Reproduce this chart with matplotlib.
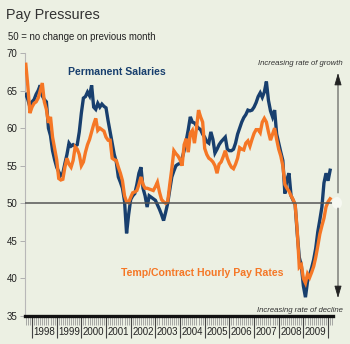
import matplotlib
matplotlib.use("Agg")
import matplotlib.pyplot as plt
from matplotlib.patches import FancyArrowPatch, Ellipse
from matplotlib.transforms import blended_transform_factory

# monthly index: 0 = Jan 1998, series run Oct 1997 .. Feb 2010
months = list(range(-3, 146))

permanent = [
    64.5, 63.8, 62.8,
    63.5, 63.8, 64.5, 65.0, 65.7, 64.3, 63.8, 63.5, 60.0, 59.0, 57.0, 55.8,   # 1998
    54.8, 54.2, 53.7, 54.0, 55.3, 56.5, 58.0, 57.6, 57.8, 57.6, 57.8, 59.5,   # 1999
    62.0, 64.0, 64.2, 64.8, 64.3, 65.7, 62.8, 62.5, 63.3, 62.8, 63.2, 62.9,   # 2000
    62.7, 61.0, 59.5, 58.0, 56.5, 55.5, 53.5, 52.8, 52.0, 50.3, 46.0, 48.5,   # 2001
    50.5, 51.0, 51.3, 52.5, 54.0, 54.8, 52.0, 51.0, 49.5, 51.0, 50.8, 50.6,   # 2002
    50.4, 49.8, 49.2, 48.5, 47.7, 48.8, 50.0, 51.8, 53.5, 54.3, 55.0, 55.2,   # 2003
    55.3, 56.0, 57.0, 58.3, 59.8, 61.5, 60.8, 60.7, 60.3, 60.0, 59.8, 59.2,   # 2004
    58.8, 58.2, 58.0, 59.5, 58.5, 56.7, 57.2, 57.8, 58.2, 58.5, 58.8, 57.2,   # 2005
    57.0, 57.0, 57.2, 58.0, 59.2, 60.0, 60.8, 61.4, 61.8, 62.4, 62.3, 62.4,   # 2006
    62.8, 63.4, 64.2, 64.7, 64.1, 64.8, 66.2, 63.7, 62.3, 61.5, 62.4, 59.2,   # 2007
    58.0, 56.8, 55.7, 51.3, 53.2, 54.0, 51.0, 50.4, 49.8, 46.0, 42.8, 41.7,   # 2008
    39.0, 37.5, 39.6, 40.5, 41.4, 42.5, 44.0, 46.2, 47.8, 49.5, 52.7, 54.0,   # 2009
    53.0, 54.4,                                                               # 2010
]

temp_contract = [
    68.5, 65.5, 62.0,
    62.8, 63.3, 63.5, 64.0, 65.0, 66.0, 63.5, 62.5, 60.7, 61.5, 58.8, 57.3,   # 1998
    55.8, 53.3, 53.1, 53.2, 54.8, 56.0, 55.2, 54.8, 55.7, 57.5, 57.2, 56.5,   # 1999
    55.0, 55.5, 56.8, 57.8, 58.5, 59.5, 60.5, 61.3, 59.7, 60.0, 59.8, 59.6,   # 2000
    58.8, 58.4, 58.4, 56.0, 55.8, 55.7, 54.8, 54.0, 53.0, 51.0, 50.2, 50.1,   # 2001
    50.8, 51.4, 51.5, 51.7, 52.5, 53.5, 52.5, 52.0, 52.0, 51.9, 51.8, 51.7,   # 2002
    52.2, 52.8, 51.5, 50.5, 50.2, 50.0, 50.2, 52.5, 54.6, 57.0, 56.6, 56.3,   # 2003
    55.8, 55.0, 57.8, 58.6, 56.8, 59.3, 59.7, 58.0, 60.0, 62.4, 61.5, 60.8,   # 2004
    57.3, 56.5, 56.0, 55.8, 55.5, 55.0, 54.0, 55.2, 55.5, 56.2, 57.0, 56.0,   # 2005
    55.3, 54.8, 54.6, 55.2, 56.0, 57.4, 57.2, 57.1, 58.0, 58.3, 57.6, 58.5,   # 2006
    59.3, 59.8, 59.8, 59.4, 60.8, 61.3, 60.8, 59.5, 58.4, 59.2, 60.0, 58.5,   # 2007
    57.2, 56.3, 55.0, 52.5, 52.0, 51.6, 51.0, 50.5, 49.8, 46.4, 41.5, 41.8,   # 2008
    40.0, 39.4, 40.6, 40.1, 40.8, 41.6, 42.8, 44.3, 45.9, 47.0, 48.0, 49.5,   # 2009
    50.2, 50.6,                                                               # 2010
]

years = list(range(1998, 2010))
y_ticks = [35, 40, 45, 50, 55, 60, 65, 70]

BG = "#ECF0E3"
NAVY = "#183F6E"
ORANGE = "#F57726"
SANS = ["Liberation Sans", "DejaVu Sans"]

W, H = 350, 344


def fx(px):
    return px / W


def fy(py):
    return 1 - py / H


fig = plt.figure(figsize=(W / 100, H / 100), dpi=100, facecolor=BG)
ax = fig.add_axes([fx(25), fy(316), (333 - 25) / W, (316 - 53) / H])
ax.set_facecolor(BG)

ax.plot(months, permanent, color=NAVY, lw=2.4, solid_joinstyle="miter", zorder=3)
ax.plot(months, temp_contract, color=ORANGE, lw=2.4, solid_joinstyle="miter", zorder=4)
ax.axhline(50, color="#555555", lw=1.1, zorder=5)

ax.set_xlim((25 - 32) / 2.056, (333 - 32) / 2.056)
ax.set_ylim(35, 70)

for side in ("top", "right"):
    ax.spines[side].set_visible(False)
ax.spines["left"].set_color("#b8b8b8")
ax.spines["left"].set_linewidth(0.8)
ax.spines["bottom"].set_color("#111111")
ax.spines["bottom"].set_linewidth(2.4)
ax.spines["bottom"].set_zorder(6)

ax.set_yticks(y_ticks)
ax.set_yticklabels([str(v) for v in y_ticks], fontfamily=SANS)
ax.tick_params(axis="y", length=3.5, width=0.7, color="#b0b0b0",
               labelsize=7, labelcolor="#222222", pad=2)

ax.set_xticks([12 * i for i in range(len(years) + 1)])
ax.set_xticks(months + [146], minor=True)
ax.set_xticklabels([])
ax.tick_params(axis="x", which="major", length=16, width=0.8, color="#444444")
ax.tick_params(axis="x", which="minor", length=6.5, width=0.6, color="#9a9a9a")

trans = blended_transform_factory(ax.transData, ax.transAxes)
for i, yr in enumerate(years):
    ax.text(12 * i + 6, -0.06, str(yr), transform=trans, ha="center", va="center",
            fontsize=7, color="#222222", family=SANS)

fig.text(fx(6), fy(19), "Pay Pressures", fontsize=10.4, color="#333333", family=SANS)
fig.text(fx(8), fy(40.5), "50 = no change on previous month", fontsize=6.9,
         color="#222222", family=SANS)

fig.text(fx(68), fy(75), "Permanent Salaries", fontsize=7.6, fontweight="bold",
         color=NAVY, family=SANS)
fig.text(fx(121), fy(276), "Temp/Contract Hourly Pay Rates", fontsize=7.6,
         fontweight="bold", color=ORANGE, family=SANS)

fig.text(fx(343), fy(65), "Increasing rate of growth", fontsize=5.6, style="italic",
         ha="right", color="#333333", family=SANS)
fig.text(fx(343), fy(312), "Increasing rate of decline", fontsize=5.6, style="italic",
         ha="right", color="#333333", family=SANS)

# pale spot where the two arrows meet the 50 line
fig.patches.append(Ellipse((fx(337), fy(203)), 10 / W, 12 / H, transform=fig.transFigure,
                           facecolor="#f7f9f2", edgecolor="none"))

for y0, y1 in ((193, 73), (208, 298)):
    fig.patches.append(FancyArrowPatch(
        (fx(338), fy(y0)), (fx(338), fy(y1)), transform=fig.transFigure,
        arrowstyle="-|>,head_length=0.75,head_width=0.22", mutation_scale=10,
        color="#222222", lw=0.6, shrinkA=0, shrinkB=0))

fig.savefig("out.png", dpi=100, facecolor=BG)
